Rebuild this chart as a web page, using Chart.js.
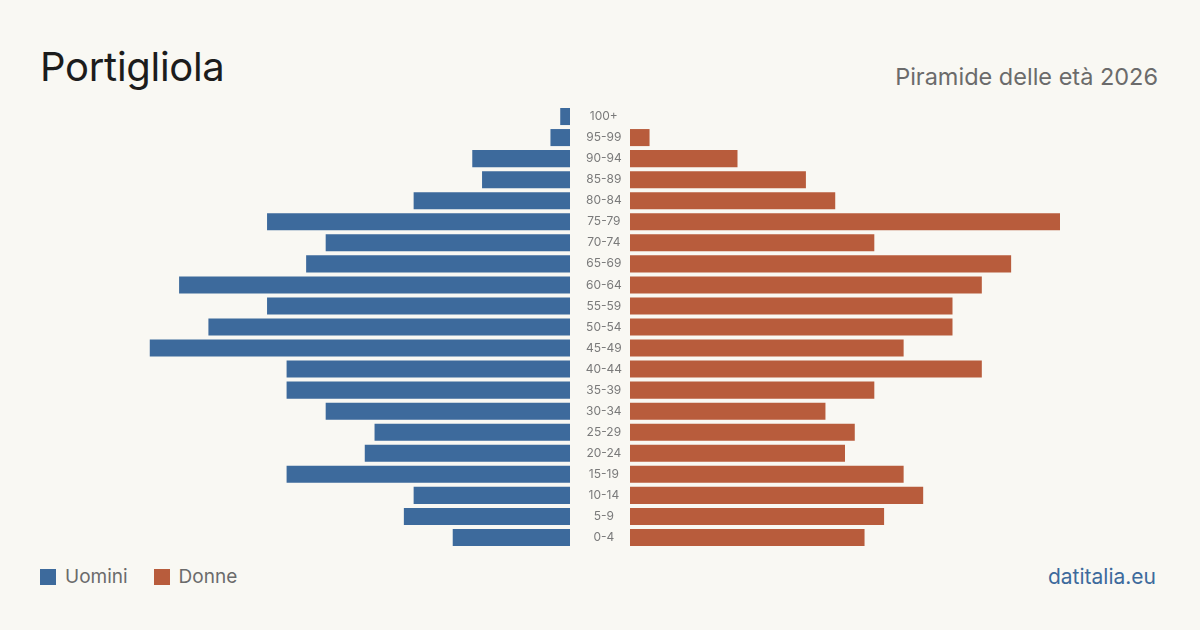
<!DOCTYPE html>
<html lang="it">
<head>
<meta charset="utf-8">
<script src="https://cdn.jsdelivr.net/npm/chart.js@4/dist/chart.umd.min.js"></script>
<style>
  html, body { margin: 0; padding: 0; }
  body { width: 1200px; height: 630px; background: #f9f8f3; position: relative; overflow: hidden; font-family: Inter, "Noto Sans", sans-serif; }
  #titolo { position: absolute; left: 40px; top: 42px; font-size: 40px; color: #1c1c1c; letter-spacing: -0.3px; }
  #sottotitolo { position: absolute; right: 42px; top: 62px; font-size: 23.5px; color: #6b6b6b; }
  #legenda { position: absolute; left: 40px; top: 565px; font-size: 19px; color: #6b6b6b; display: flex; align-items: center; }
  #legenda .box { width: 16px; height: 16px; display: inline-block; margin-right: 9px; }
  #legenda .voce { display: flex; align-items: center; margin-right: 26px; }
  #fonte { position: absolute; right: 44px; top: 564px; font-size: 21px; color: #3d6a9c; }
  #cvUomini { position: absolute; left: 140px; top: 106px; }
  #cvDonne { position: absolute; left: 570px; top: 106px; }
</style>
</head>
<body>
<div id="titolo">Portigliola</div>
<div id="sottotitolo">Piramide delle età 2026</div>
<canvas id="cvUomini" width="430" height="442"></canvas>
<canvas id="cvDonne" width="490" height="442"></canvas>
<div id="legenda">
  <span class="voce"><span class="box" style="background:#3d6a9c"></span>Uomini</span>
  <span class="voce"><span class="box" style="background:#b85c3c"></span>Donne</span>
</div>
<div id="fonte">datitalia.eu</div>

<script>
// classi di età, dall'alto verso il basso
const classiEta = ['100+', '95-99', '90-94', '85-89', '80-84', '75-79', '70-74', '65-69', '60-64', '55-59',
  '50-54', '45-49', '40-44', '35-39', '30-34', '25-29', '20-24', '15-19', '10-14', '5-9', '0-4'];
const uomini = [1, 2, 10, 9, 16, 31, 25, 27, 40, 31, 37, 43, 29, 29, 25, 20, 21, 29, 16, 17, 12];
const donne  = [0, 2, 11, 18, 21, 44, 25, 39, 36, 33, 33, 28, 36, 25, 20, 23, 22, 28, 30, 26, 24];
const maxAsse = 44;

const COL_UOMINI = '#3d6a9c';
const COL_DONNE = '#b85c3c';

function opzioniBase() {
  return {
    indexAxis: 'y',
    responsive: false,
    animation: false,
    layout: { padding: 0 },
    plugins: { legend: { display: false }, tooltip: { enabled: false } }
  };
}

// lato sinistro: uomini, asse invertito
const optU = opzioniBase();
optU.scales = {
  x: { display: false, min: 0, max: maxAsse, reverse: true },
  y: { display: false }
};
new Chart(document.getElementById('cvUomini'), {
  type: 'bar',
  data: {
    labels: classiEta,
    datasets: [{ data: uomini, backgroundColor: COL_UOMINI, barPercentage: 1, categoryPercentage: 0.81 }]
  },
  options: optU
});

// lato destro: donne, con le etichette al centro
const optD = opzioniBase();
optD.scales = {
  x: { display: false, min: 0, max: maxAsse },
  y: {
    position: 'left',
    grid: { display: false },
    border: { display: false },
    // larghezza fissa della colonna etichette, niente margini extra sopra/sotto
    afterFit: s => { s.width = 60; s.paddingTop = 0; s.paddingBottom = 0; },
    ticks: { crossAlign: 'center', padding: 0, color: '#7a7a7a', font: { family: 'Inter', size: 12 } }
  }
};
new Chart(document.getElementById('cvDonne'), {
  type: 'bar',
  data: {
    labels: classiEta,
    datasets: [{ data: donne, backgroundColor: COL_DONNE, barPercentage: 1, categoryPercentage: 0.81 }]
  },
  options: optD
});
</script>
</body>
</html>
